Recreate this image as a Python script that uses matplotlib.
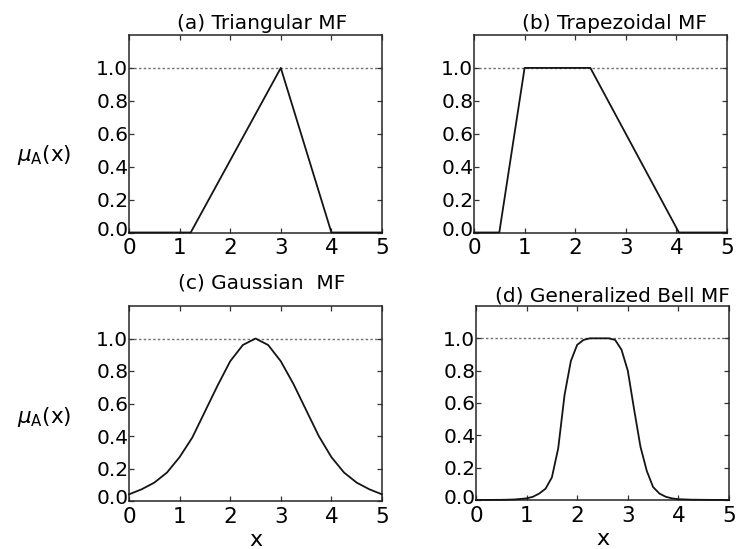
import matplotlib
matplotlib.use("Agg")
import matplotlib.pyplot as plt
from matplotlib.transforms import ScaledTranslation

plt.rcParams['font.family'] = ['DejaVu Sans']
plt.rcParams['mathtext.fontset'] = 'dejavusans'

# ---- data ----
x_ticks = [0, 1, 2, 3, 4, 5]
y_ticks = [0.0, 0.2, 0.4, 0.6, 0.8, 1.0]
y_tick_labels = ["0.0", "0.2", "0.4", "0.6", "0.8", "1.0"]

titles = ["(a) Triangular MF", "(b) Trapezoidal MF",
          "(c) Gaussian  MF", "(d) Generalized Bell MF"]

tri_x = [0, 1.22, 3.0, 4.0, 5]
tri_y = [0, 0, 1.0, 0, 0]

trap_x = [0, 0.5, 1.0, 2.3, 4.05, 5]
trap_y = [0, 0, 1.0, 1.0, 0, 0]

gauss_x = [0, 0.25, 0.5, 0.75, 1.0, 1.25, 1.5, 1.75, 2.0, 2.25, 2.5,
           2.75, 3.0, 3.25, 3.5, 3.75, 4.0, 4.25, 4.5, 4.75, 5.0]
gauss_y = [0.041, 0.072, 0.113, 0.175, 0.27, 0.39, 0.55, 0.71, 0.86, 0.96, 1.0,
           0.96, 0.86, 0.72, 0.56, 0.40, 0.27, 0.175, 0.113, 0.072, 0.041]

bell_x = [0, 0.5, 0.75, 1.0, 1.125, 1.25, 1.375, 1.5, 1.625, 1.75, 1.875, 2.0,
          2.125, 2.25, 2.375, 2.5, 2.625, 2.75, 2.875, 3.0, 3.125, 3.25, 3.375,
          3.5, 3.625, 3.75, 3.875, 4.0, 4.25, 4.5, 5.0]
bell_y = [0, 0.001, 0.003, 0.01, 0.02, 0.04, 0.07, 0.14, 0.32, 0.65, 0.86, 0.96,
          0.99, 1.0, 1.0, 1.0, 1.0, 0.99, 0.93, 0.80, 0.56, 0.33, 0.18,
          0.08, 0.04, 0.02, 0.01, 0.005, 0.002, 0.001, 0]

reference_level = 1.0

series = [(tri_x, tri_y), (trap_x, trap_y), (gauss_x, gauss_y), (bell_x, bell_y)]

# ---- layout (pixels of a 744x549 figure) ----
W, H = 744, 549
fig = plt.figure(figsize=(W / 100, H / 100), dpi=100)

boxes = [  # left, top, right, bottom in pixels
    (129, 35, 382, 232.5),
    (474, 35, 727, 232.5),
    (129, 306, 382, 501),
    (476, 306, 729, 500),
]
title_x = [0.528, 0.555, 0.526, 0.538]
title_pad = [4.5, 4.5, 12.5, 3.5]

axes = []
for i, (l, t, r, b) in enumerate(boxes):
    ax = fig.add_axes([l / W, 1 - b / H, (r - l) / W, (b - t) / H])
    axes.append(ax)
    xs, ys = series[i]
    ax.axhline(reference_level, color='0.45', lw=1.0, ls=(0, (1.8, 1.6)), zorder=1)
    ax.plot(xs, ys, color='0.08', lw=1.3, zorder=3, clip_on=False,
            solid_joinstyle='round')
    ax.set_xlim(0, 5)
    ax.set_ylim(0, 1.2)
    ax.set_xticks(x_ticks)
    ax.set_yticks(y_ticks)
    ax.set_yticklabels(y_tick_labels)
    ax.tick_params(direction='in', top=True, right=True, length=3.5, width=0.9,
                   color='0.2')
    ax.tick_params(axis='x', labelsize=15.5, pad=4)
    ax.tick_params(axis='y', labelsize=14.5, pad=0.5)
    for s in ax.spines.values():
        s.set_linewidth(1.1)
        s.set_color('0.15')
    ax.set_title(titles[i], fontsize=14.5, x=title_x[i], pad=title_pad[i])
    # lift the bottom "0.0" label a little, as in the reference
    lab0 = ax.get_yticklabels()[0]
    lab0.set_transform(lab0.get_transform() +
                       ScaledTranslation(0, 4 / 100, fig.dpi_scale_trans))

# y labels (left column)
for ax, yc in ((axes[0], 0.39), (axes[2], 0.43)):
    ax.set_ylabel(r'$\mu_{\rm A}$(x)', rotation=0, fontsize=15.5,
                  ha='center', va='center')
    ax.yaxis.set_label_coords(-0.335, yc)

# x labels (bottom row)
for ax in axes[2:]:
    ax.set_xlabel('x', fontsize=16, labelpad=2.5)

fig.savefig('out.png', dpi=100)
